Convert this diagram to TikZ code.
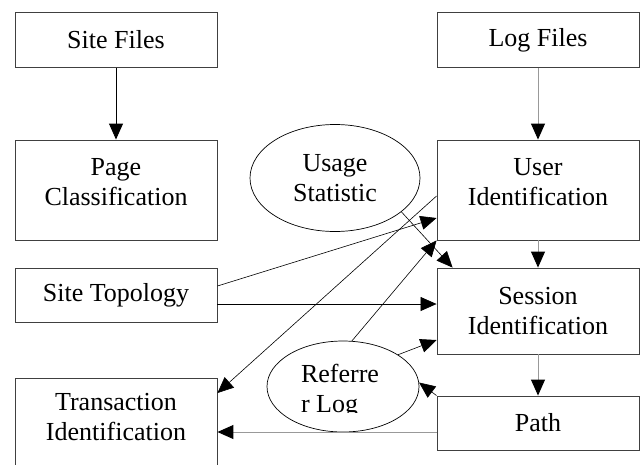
\documentclass[tikz,border=0pt]{standalone}
\usepackage{fontspec}
\setmainfont{Liberation Serif}
\usetikzlibrary{arrows.meta,shapes.geometric}
\begin{document}
\begin{tikzpicture}[x=1pt,y=-1pt,
  box/.style={draw=black!75, line width=0.9pt, rectangle, minimum width=202pt, inner sep=0pt, align=center, font=\fontsize{26}{30}\selectfont},
  ell/.style={draw=black, line width=0.7pt, ellipse, inner sep=0pt, align=center, font=\fontsize{26}{30}\selectfont},
  txt/.style={inner sep=0pt, align=left, font=\fontsize{26}{30}\selectfont},
  arr/.style={-{Triangle[length=16pt,width=14pt]}, line width=0.6pt, black},
  varr/.style={-{Triangle[length=16pt,width=14pt]}, line width=0.9pt, black},
  garr/.style={-{Triangle[length=16pt,width=14pt,color=black]}, line width=1pt, draw=black!40},
]
\useasboundingbox (0,0) rectangle (644,464);
\fill[white] (0,0) rectangle (644,464);

% boxes
\node[box, minimum height=54.3pt] (sitef) at (116,40) {Site Files};
\node[box, minimum height=54.3pt] (logf) at (538,40) {Log Files};
\node[box, minimum height=100pt, text depth=16pt] (page) at (116,190) {Page\\Classification};
\node[box, minimum height=100pt, text depth=16pt] (user) at (538,190) {User\\Identification};
\node[box, minimum height=54pt] (topo) at (116,295) {Site Topology};
\node[box, minimum height=86pt] (sess) at (538,311) {Session\\Identification};
\node[box, minimum height=54pt] (path) at (538,423) {Path};
\node[box, minimum height=100pt, text depth=23pt] (trans) at (116,428) {Transaction\\Identification};

% ellipses
\node[ell, minimum width=170pt, minimum height=107pt] (usage) at (335,178) {Usage\\Statistic};
\node[ell, minimum width=152pt, minimum height=91pt] (ref) at (343,386.5) {};
\begin{scope}
  \clip (250,340) rectangle (430,412);
  \node[txt, xshift=-3pt, yshift=-4.4pt] (reftext) at (ref.center) {Referre\\r Log};
\end{scope}

% vertical connectors
\draw[varr] (sitef) -- (page);
\draw[garr] (logf) -- (user);
\draw[garr] (user) -- (sess);
\draw[garr] (sess) -- (path);

% path to transaction
\coordinate (p1) at ([yshift=-9pt]path.west);
\draw[garr] (p1) -- (p1 -| trans.east);

% site topology
\coordinate (t1) at ([yshift=9pt]topo.east);
\draw[arr] (t1) -- ([yshift=-28pt]user.west);
\coordinate (t2) at ([yshift=-9pt]topo.east);
\draw[arr] (t2) -- (t2 -| sess.west);

% usage statistic
\draw[arr] (usage.-27) -- ([xshift=16pt]sess.north west);

% user identification to transaction
\draw[arr] ([yshift=-6pt]user.west) -- ([yshift=35pt]trans.east);

% referrer log
\draw[arr] (ref.79) -- (user.south west);
\draw[arr] (ref.30) -- ([yshift=-29pt]sess.west);
\draw[arr] (path.north west) -- (ref.3);
\end{tikzpicture}
\end{document}
